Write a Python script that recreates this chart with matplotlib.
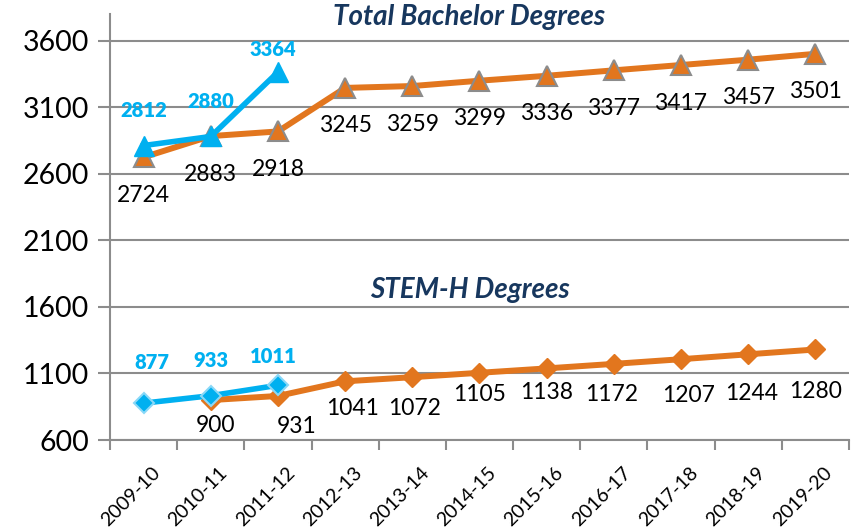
import matplotlib.pyplot as plt
import matplotlib.transforms as mtransforms
import numpy as np

# data
years = ['2009-10', '2010-11', '2011-12', '2012-13', '2013-14', '2014-15',
         '2015-16', '2016-17', '2017-18', '2018-19', '2019-20']
bach_actual = [2812, 2880, 3364]
bach_proj = [2724, 2883, 2918, 3245, 3259, 3299, 3336, 3377, 3417, 3457, 3501]
stem_actual = [877, 933, 1011]
stem_proj = [900, 931, 1041, 1072, 1105, 1138, 1172, 1207, 1244, 1280]

# label nudges (pixels) so the numbers sit like in the original
bach_act_dy = [35, 35, 23]
bach_act_dx = [0, 0, -5]
stem_act_dy = [41, 35, 29]
stem_act_dx = [8, 0, -5]
stem_proj_dy = [-25, -31, -27, -31, -22, -24, -31, -36, -39, -42]
stem_proj_dx = [5, 19, 7, 2, 0, 0, -2, 8, 3, 0]

BLUE = '#00B0F0'
ORANGE = '#E2761E'
NAVY = '#17375E'
GRID = '#8C8C8C'
FONT = 'Lato'

plt.rcParams['font.family'] = [FONT, 'DejaVu Sans']

fig = plt.figure(figsize=(8.54, 5.29), dpi=100)
ax = fig.add_axes([0.1288, 0.1682, 0.8653, 0.8053])

x = np.arange(len(years))
xa = x[:3]
xs = x[1:]

# bachelor degrees
ax.plot(x, bach_proj, color=ORANGE, lw=4.3, marker='^', ms=14,
        mfc=ORANGE, mec='#8C8C8C', mew=1.5, zorder=3)
ax.plot(xa, bach_actual, color=BLUE, lw=4, marker='^', ms=14,
        mfc=BLUE, mec=BLUE, zorder=4)

# STEM-H degrees
ax.plot(xs, stem_proj, color=ORANGE, lw=4.3, marker='D', ms=10,
        mfc=ORANGE, mec=ORANGE, zorder=3)
ax.plot(xa, stem_actual, color=BLUE, lw=4, marker='D', ms=10,
        mfc=BLUE, mec='#8AD8F7', mew=1.5, zorder=4)

px = 72.0 / fig.dpi
for i, v in enumerate(bach_proj):
    ax.annotate(str(v), (x[i], v), xytext=(0, -38 * px), textcoords='offset points',
                ha='center', va='center', fontsize=16.5, color='black')
for i, v in enumerate(bach_actual):
    ax.annotate(str(v), (xa[i], v), xytext=(bach_act_dx[i] * px, bach_act_dy[i] * px),
                textcoords='offset points', ha='center', va='center',
                fontsize=14.5, color=BLUE, fontweight='heavy')
for i, v in enumerate(stem_proj):
    ax.annotate(str(v), (xs[i], v), xytext=(stem_proj_dx[i] * px, stem_proj_dy[i] * px),
                textcoords='offset points', ha='center', va='center',
                fontsize=16.5, color='black')
for i, v in enumerate(stem_actual):
    ax.annotate(str(v), (xa[i], v), xytext=(stem_act_dx[i] * px, stem_act_dy[i] * px),
                textcoords='offset points', ha='center', va='center',
                fontsize=14.5, color=BLUE, fontweight='heavy')

fig.text(0.549, 0.968, 'Total Bachelor Degrees', ha='center', va='center',
         fontsize=20, fontweight='bold', fontstyle='italic', color=NAVY)
fig.text(0.550, 0.452, 'STEM-H Degrees', ha='center', va='center',
         fontsize=20, fontweight='bold', fontstyle='italic', color=NAVY)

ax.set_xlim(-0.5, len(years) - 0.5)
ax.set_ylim(600, 3800)
ax.set_yticks(np.arange(600, 3601, 500))
ax.tick_params(axis='y', labelsize=20.5, length=9, width=1.5, color=GRID, pad=6)
ax.set_xticks(x)
ax.set_xticklabels(years, rotation=45, ha='right', rotation_mode='anchor', fontsize=14)
ax.tick_params(axis='x', which='major', length=0, pad=17)
ax.set_xticks(np.arange(-0.5, len(years), 1), minor=True)
ax.tick_params(axis='x', which='minor', length=7, width=1.5, color=GRID)

# nudge the rotated year labels a little to the right
shift = mtransforms.ScaledTranslation(8 / 100, 0, fig.dpi_scale_trans)
for lab in ax.get_xticklabels():
    lab.set_transform(lab.get_transform() + shift)

ax.grid(axis='y', color=GRID, lw=1.5)
ax.set_axisbelow(True)
for s in ['top', 'right']:
    ax.spines[s].set_visible(False)
for s in ['left', 'bottom']:
    ax.spines[s].set_color(GRID)
    ax.spines[s].set_linewidth(1.5)

fig.savefig('out.png', dpi=100)
